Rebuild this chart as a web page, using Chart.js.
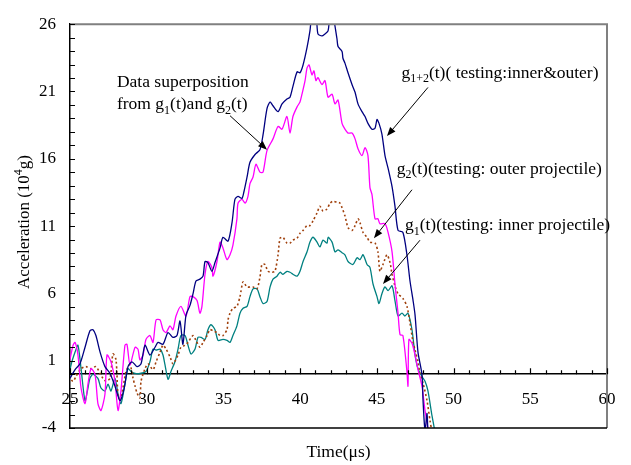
<!DOCTYPE html>
<html>
<head>
<meta charset="utf-8">
<script src="https://cdn.jsdelivr.net/npm/chart.js@4"></script>
<style>
  html, body { margin: 0; padding: 0; background: #fff; }
  canvas { display: block; }
</style>
</head>
<body>
<canvas id="accelChart" width="631" height="465"></canvas>
<script>
const xTicks = [25, 30, 35, 40, 45, 50, 55, 60];
const yTicks = [-4, 1, 6, 11, 16, 21, 26];

// g1+2(t): inner & outer projectile tested together
const timeG12 = [25.00, 25.33, 25.65, 25.98, 26.30, 26.50, 26.69, 26.96, 27.28, 27.61, 27.93, 28.26, 28.52, 28.78, 29.04, 29.37, 29.63, 29.89, 30.21, 30.54, 30.74, 31.06, 31.39, 31.71, 31.97, 32.17, 32.36, 32.56, 32.82, 33.02, 33.21, 33.47, 33.67, 33.80, 33.99, 34.25, 34.45, 34.78, 34.97, 35.30, 35.56, 35.75, 35.95, 36.21, 36.34, 36.54, 36.73, 37.06, 37.38, 37.58, 37.84, 38.04, 38.23, 38.56, 38.82, 39.14, 39.34, 39.53, 39.80, 39.99, 40.19, 40.45, 40.64, 40.77, 41.03, 41.16, 41.42, 41.62, 41.82, 41.95, 42.14, 42.40, 42.47, 42.73, 42.79, 42.92, 43.12, 43.38, 43.58, 43.77, 44.03, 44.23, 44.42, 44.68, 44.88, 45.01, 45.14, 45.33, 45.53, 45.73, 45.99, 46.18, 46.38, 46.70, 46.96, 47.16, 47.36, 47.49, 47.68, 47.94, 48.01, 48.14, 48.27, 48.33];
const accG12 = [-0.31, 0.34, 0.77, 2.00, 3.23, 3.30, 2.87, 1.64, 0.56, 0.05, -0.89, -1.97, -1.11, 0.56, 0.92, 0.56, 0.77, 2.15, 1.42, 2.00, 2.36, 2.22, 3.09, 2.73, 2.87, 3.95, 2.22, 4.39, 5.11, 5.98, 6.92, 7.06, 7.28, 8.37, 8.29, 7.64, 8.29, 9.38, 10.17, 9.88, 11.26, 12.99, 13.21, 13.06, 13.57, 14.65, 15.74, 16.32, 16.68, 17.77, 19.72, 20.22, 19.94, 19.50, 20.08, 20.44, 20.58, 21.38, 22.46, 22.39, 22.97, 24.27, 25.50, 26.6, 26.6, 25.28, 25.13, 25.28, 25.50, 26.6, 26.6, 24.92, 24.34, 23.98, 23.47, 23.11, 22.39, 21.52, 20.94, 20.08, 19.50, 19.14, 18.63, 18.20, 18.27, 18.92, 18.63, 17.84, 16.24, 15.30, 13.93, 12.48, 10.68, 10.53, 8.87, 6.92, 5.47, 4.39, 1.64, -0.02, -1.97, -4.2, -2.91, -4.5];

// g1(t) + g2(t) added point by point
const timeSum = [24.90, 25.20, 25.33, 25.52, 25.72, 25.98, 26.17, 26.37, 26.63, 26.82, 27.02, 27.28, 27.41, 27.67, 27.93, 28.13, 28.32, 28.58, 28.71, 28.91, 29.24, 29.43, 29.56, 29.76, 29.95, 30.21, 30.41, 30.61, 30.87, 31.06, 31.26, 31.52, 31.71, 31.91, 32.23, 32.56, 32.82, 33.02, 33.28, 33.47, 33.60, 33.80, 33.99, 34.25, 34.32, 34.58, 34.78, 34.97, 35.23, 35.43, 35.62, 35.88, 35.95, 36.21, 36.41, 36.60, 36.73, 36.93, 37.12, 37.38, 37.58, 37.84, 38.23, 38.56, 38.82, 39.14, 39.34, 39.53, 39.80, 39.99, 40.12, 40.32, 40.45, 40.58, 40.77, 40.90, 41.03, 41.16, 41.42, 41.62, 41.82, 42.08, 42.27, 42.47, 42.73, 42.92, 43.12, 43.38, 43.58, 43.77, 44.03, 44.23, 44.42, 44.55, 44.68, 44.88, 45.07, 45.20, 45.53, 45.73, 45.99, 46.18, 46.38, 46.51, 46.70, 46.96, 47.03, 47.09, 47.29, 47.49, 47.68, 47.94, 48.14, 48.33, 48.46];
const accSum = [0.56, 2.15, 2.36, 1.42, -1.03, -2.19, -0.74, 0.41, -0.02, -2.19, -2.70, -1.47, 1.42, 0.92, -0.53, -2.70, -1.25, 2.15, 2.22, 0.70, 2.00, 1.86, 1.06, 1.42, 2.58, 2.87, 2.36, 4.03, 4.03, 3.30, 3.09, 3.59, 3.30, 4.32, 5.04, 4.32, 5.76, 5.76, 5.47, 4.53, 5.04, 7.42, 8.37, 7.93, 7.28, 8.37, 9.81, 9.38, 8.51, 8.87, 9.59, 11.54, 12.70, 12.99, 12.70, 13.21, 14.15, 14.65, 15.59, 15.01, 15.01, 16.61, 17.48, 18.41, 18.20, 19.14, 17.91, 19.14, 19.86, 20.22, 20.80, 21.81, 22.75, 22.97, 22.24, 22.53, 21.81, 22.03, 21.52, 21.81, 20.58, 20.80, 20.08, 20.37, 18.63, 18.20, 17.91, 17.91, 17.48, 16.75, 16.24, 16.83, 16.24, 13.86, 13.35, 11.54, 11.54, 11.18, 11.18, 10.53, 9.09, 6.70, 4.53, 2.94, 2.87, 0.20, -0.89, 2.58, 2.29, 1.42, 0.34, -0.89, -2.70, -4.0, -4.6];

// g2(t): outer projectile
const timeG2 = [24.90, 25.20, 25.39, 25.72, 26.04, 26.37, 26.69, 26.96, 27.15, 27.35, 27.61, 27.80, 28.00, 28.13, 28.26, 28.45, 28.65, 28.91, 29.11, 29.24, 29.37, 29.56, 29.63, 29.89, 30.08, 30.41, 30.61, 30.87, 31.06, 31.26, 31.52, 31.71, 32.04, 32.23, 32.50, 32.69, 33.02, 33.21, 33.47, 33.67, 33.93, 34.12, 34.32, 34.58, 34.78, 34.97, 35.23, 35.30, 35.43, 35.62, 35.88, 36.08, 36.28, 36.54, 36.93, 37.19, 37.38, 37.51, 37.71, 37.90, 38.17, 38.36, 38.56, 38.69, 38.88, 39.14, 39.34, 39.53, 39.80, 39.99, 40.19, 40.45, 40.64, 40.84, 41.10, 41.29, 41.49, 41.75, 41.95, 42.14, 42.40, 42.60, 42.92, 43.12, 43.38, 43.58, 43.77, 43.90, 44.10, 44.36, 44.55, 44.88, 45.07, 45.20, 45.40, 45.66, 45.86, 45.99, 46.18, 46.38, 46.70, 46.96, 47.16, 47.36, 47.49, 47.68, 47.81, 48.01, 48.27, 48.46, 48.59];
const accG2 = [-0.17, -0.53, -0.17, 0.41, 0.56, 0.41, 0.56, 0.05, -0.31, -0.53, -0.31, 1.50, 1.06, -1.61, -1.83, -1.03, 0.20, 0.70, -0.31, -0.89, -1.40, -1.76, -0.53, 0.41, 0.77, 0.34, 0.92, 1.64, 2.15, 1.86, 1.28, 0.77, 1.42, 2.00, 2.15, 2.36, 2.87, 2.51, 2.00, 2.36, 2.87, 3.30, 3.23, 3.09, 2.87, 2.87, 3.30, 4.03, 4.53, 4.89, 5.04, 5.76, 6.85, 6.48, 6.48, 6.34, 7.21, 8.15, 8.15, 7.64, 7.57, 7.64, 8.87, 10.10, 10.17, 9.74, 9.74, 9.96, 10.10, 10.46, 10.68, 11.04, 11.04, 11.40, 11.98, 12.48, 12.12, 12.27, 12.70, 12.85, 12.77, 12.70, 11.76, 10.89, 10.68, 11.04, 11.54, 11.26, 10.53, 10.17, 9.81, 9.74, 9.09, 7.64, 8.15, 8.87, 8.29, 7.42, 6.56, 5.98, 5.62, 5.04, 3.81, 2.36, 1.79, 0.92, 0.05, -0.67, -1.97, -3.42, -4.3];

// g1(t): inner projectile
const timeG1 = [24.90, 25.07, 25.33, 25.52, 25.72, 25.98, 26.17, 26.30, 26.50, 26.82, 27.02, 27.28, 27.48, 27.67, 27.93, 28.13, 28.32, 28.58, 28.78, 28.98, 29.24, 29.56, 29.95, 30.21, 30.41, 30.61, 30.87, 31.06, 31.19, 31.39, 31.58, 31.84, 32.04, 32.23, 32.50, 32.69, 32.89, 33.15, 33.34, 33.54, 33.80, 33.99, 34.19, 34.45, 34.65, 34.97, 35.23, 35.43, 35.62, 35.88, 36.08, 36.28, 36.54, 36.73, 36.93, 37.19, 37.38, 37.58, 37.84, 38.04, 38.23, 38.49, 38.69, 38.88, 39.14, 39.34, 39.53, 39.80, 39.99, 40.19, 40.45, 40.64, 40.84, 41.10, 41.29, 41.49, 41.75, 41.82, 42.08, 42.27, 42.47, 42.73, 42.92, 43.12, 43.44, 43.71, 43.90, 44.10, 44.36, 44.55, 44.75, 45.01, 45.14, 45.33, 45.53, 45.73, 45.99, 46.18, 46.38, 46.64, 46.83, 47.03, 47.29, 47.49, 47.68, 47.94, 48.14, 48.33, 48.59, 48.79];
const accG1 = [-0.31, 0.70, 1.64, 2.15, 0.41, -1.97, -1.03, -0.31, -0.02, -0.31, -1.03, -1.25, -0.74, -1.25, -0.31, -1.47, -2.19, -0.74, 0.41, 0.20, 0.05, 0.05, 0.20, 0.92, 1.86, 1.79, 1.86, 1.42, 0.70, -0.38, 0.20, 0.92, 1.86, 2.87, 2.87, 2.15, 1.50, 1.86, 2.73, 2.73, 2.58, 3.30, 3.67, 3.30, 2.51, 2.58, 2.51, 2.36, 2.87, 3.59, 4.53, 4.89, 5.04, 5.76, 6.34, 6.34, 5.76, 5.25, 5.40, 6.48, 7.06, 7.28, 7.57, 7.42, 7.64, 7.57, 7.42, 7.28, 7.64, 8.37, 9.09, 9.81, 10.17, 9.81, 9.45, 9.96, 9.74, 10.17, 9.81, 9.09, 9.23, 9.02, 8.87, 8.37, 8.15, 8.65, 8.51, 8.87, 8.15, 7.93, 6.70, 5.76, 5.25, 5.98, 6.48, 6.20, 6.56, 5.47, 4.32, 4.53, 4.32, 4.53, 3.30, 1.42, 0.41, -0.17, -0.53, -1.25, -3.06, -4.3];

// callouts: text start (t, acc) and arrow tail -> tip, all in data units
const notes = [
  { lines: [[{ text: "Data superposition" }], [{ text: "from g" }, { text: "1", sub: true }, { text: "(t)and g" }, { text: "2", sub: true }, { text: "(t)" }]],
    at: [28.06, 21.34], tail: [35.43, 19.2], tip: [37.84, 16.68] },
  { lines: [[{ text: "g" }, { text: "1+2", sub: true }, { text: "(t)( testing:inner&outer)" }]],
    at: [46.6, 22.0], tail: [48.33, 21.3], tip: [45.66, 17.69] },
  { lines: [[{ text: "g" }, { text: "2", sub: true }, { text: "(t)(testing: outer projectile)" }]],
    at: [46.29, 14.9], tail: [47.29, 13.7], tip: [44.81, 10.1] },
  { lines: [[{ text: "g" }, { text: "1", sub: true }, { text: "(t)(testing: inner projectile)" }]],
    at: [46.83, 10.68], tail: [47.81, 9.95], tip: [45.4, 6.7] },
];

const SERIF = '"Liberation Serif", "Times New Roman", serif';
const NOTE_SIZE = 17.5;
const pts = (ts, vs) => ts.map((t, i) => ({ x: t, y: vs[i] }));

function richWidth(ctx, parts, size) {
  let w = 0;
  parts.forEach((p) => {
    ctx.font = `${p.sub || p.sup ? Math.round(size * 0.68) : size}px ${SERIF}`;
    w += ctx.measureText(p.text).width;
  });
  return w;
}

function drawRich(ctx, parts, x, y, size) {
  let cx = x;
  parts.forEach((p) => {
    const s = p.sub || p.sup ? Math.round(size * 0.68) : size;
    const dy = p.sub ? size * 0.25 : p.sup ? -size * 0.4 : 0;
    ctx.font = `${s}px ${SERIF}`;
    ctx.fillText(p.text, cx, y + dy);
    cx += ctx.measureText(p.text).width;
  });
}

function arrow(ctx, x1, y1, x2, y2) {
  const a = Math.atan2(y2 - y1, x2 - x1);
  const c = Math.cos(a), s = Math.sin(a);
  ctx.beginPath();
  ctx.moveTo(x1, y1);
  ctx.lineTo(x2 - 6 * c, y2 - 6 * s);
  ctx.stroke();
  ctx.beginPath();
  ctx.moveTo(x2, y2);
  ctx.lineTo(x2 - 9 * c + 3.5 * s, y2 - 9 * s - 3.5 * c);
  ctx.lineTo(x2 - 9 * c - 3.5 * s, y2 - 9 * s + 3.5 * c);
  ctx.closePath();
  ctx.fill();
}

// inward ticks, frame, axis titles and callouts
const decorations = {
  id: "decorations",
  afterDraw(chart) {
    const { ctx, chartArea: a, scales: { x, y } } = chart;
    ctx.save();

    ctx.strokeStyle = "#808080";
    ctx.lineWidth = 2;
    ctx.beginPath();
    ctx.moveTo(a.left, a.top);
    ctx.lineTo(a.right, a.top);
    ctx.lineTo(a.right, a.bottom);
    ctx.stroke();
    ctx.strokeStyle = "#000";
    ctx.lineWidth = 1.5;
    ctx.beginPath();
    ctx.moveTo(a.right, a.bottom);
    ctx.lineTo(a.left, a.bottom);
    ctx.stroke();

    ctx.lineWidth = 1.2;
    ctx.beginPath();
    for (let v = yTicks[0]; v <= yTicks[yTicks.length - 1]; v++) {
      const py = Math.round(y.getPixelForValue(v)) + 0.5;
      ctx.moveTo(a.left, py);
      ctx.lineTo(a.left + 5, py);
    }
    const y0 = y.getPixelForValue(0);
    for (let t = xTicks[0]; t <= xTicks[xTicks.length - 1]; t++) {
      const px = Math.round(x.getPixelForValue(t)) + 0.5;
      ctx.moveTo(px, y0);
      ctx.lineTo(px, y0 - (t % 5 ? 4 : 6));
    }
    ctx.stroke();

    ctx.fillStyle = "#000";
    ctx.textBaseline = "alphabetic";

    // y title, rotated
    const yTitle = [{ text: "Acceleration (10" }, { text: "4", sup: true }, { text: "g)" }];
    const w = richWidth(ctx, yTitle, 17);
    ctx.save();
    ctx.translate(29, 222);
    ctx.rotate(-Math.PI / 2);
    drawRich(ctx, yTitle, -w / 2, 0, 17);
    ctx.restore();

    const xTitle = [{ text: "Time(\u03bcs)" }];
    drawRich(ctx, xTitle, (a.left + a.right) / 2 - richWidth(ctx, xTitle, 17.5) / 2, 457, 17.5);

    ctx.lineWidth = 1;
    notes.forEach((n) => {
      const tx = x.getPixelForValue(n.at[0]);
      const ty = y.getPixelForValue(n.at[1]);
      n.lines.forEach((line, i) => drawRich(ctx, line, tx, ty + i * 22.5, NOTE_SIZE));
      arrow(ctx,
        x.getPixelForValue(n.tail[0]), y.getPixelForValue(n.tail[1]),
        x.getPixelForValue(n.tip[0]), y.getPixelForValue(n.tip[1]));
    });
    ctx.restore();
  },
};

const tickFont = { family: SERIF, size: 17 };

new Chart(document.getElementById("accelChart"), {
  type: "line",
  data: {
    datasets: [
      { label: "g1+2(t)", data: pts(timeG12, accG12), borderColor: "#000080", borderWidth: 1.3 },
      { label: "superposition", data: pts(timeSum, accSum), borderColor: "#ff00ff", borderWidth: 1.3 },
      { label: "g2(t)", data: pts(timeG2, accG2), borderColor: "#a0400c", borderWidth: 1.6, borderDash: [2, 2.5] },
      { label: "g1(t)", data: pts(timeG1, accG1), borderColor: "#008080", borderWidth: 1.3 },
    ],
  },
  options: {
    responsive: false,
    animation: false,
    layout: { padding: { left: 0, right: 24, top: 13, bottom: 37 } },
    elements: { point: { radius: 0 }, line: { tension: 0.25, fill: false } },
    plugins: { legend: { display: false }, tooltip: { enabled: false } },
    scales: {
      x: {
        type: "linear",
        position: { y: 0 },
        min: 25,
        max: 60,
        afterBuildTicks: (s) => { s.ticks = xTicks.map((v) => ({ value: v })); },
        afterFit: (s) => { s.height = 0; },
        grid: { display: false, drawTicks: false },
        border: { color: "#000", width: 1.5 },
        ticks: { font: tickFont, color: "#000", padding: 15, maxRotation: 0, autoSkip: false },
      },
      y: {
        type: "linear",
        min: -4,
        max: 26,
        afterBuildTicks: (s) => { s.ticks = yTicks.map((v) => ({ value: v })); },
        afterFit: (s) => { s.width = 70; },
        grid: { display: false, drawTicks: false },
        border: { color: "#000", width: 1.5 },
        ticks: { font: tickFont, color: "#000", padding: 14, autoSkip: false },
      },
    },
  },
  plugins: [decorations],
});
</script>
</body>
</html>
